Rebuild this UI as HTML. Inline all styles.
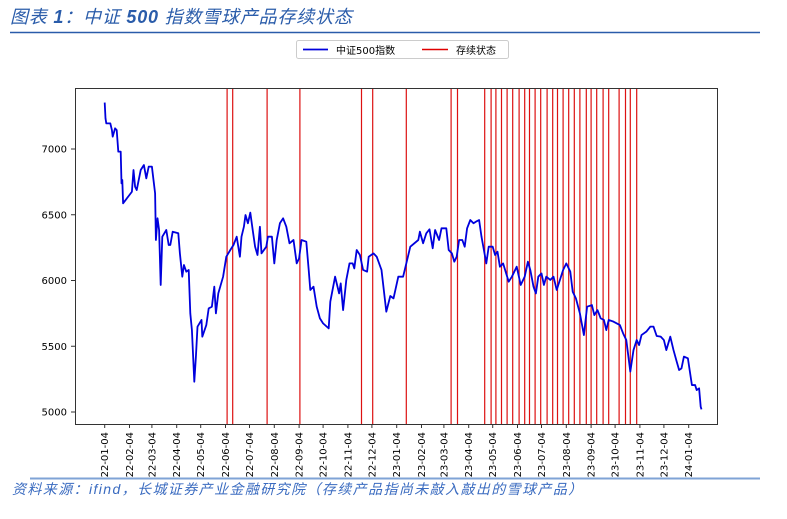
<!DOCTYPE html>
<html><head><meta charset="utf-8">
<style>
body{margin:0;background:#fff;width:787px;height:514px;overflow:hidden;font-family:"Liberation Sans","Noto Sans CJK SC",sans-serif;}
svg text{font-family:"DejaVu Sans","Liberation Sans","Noto Sans CJK SC",sans-serif;}
</style></head><body>
<svg id="chart" width="787" height="514">
<text x="10" y="23" font-size="18" font-style="italic" fill="#2a5caa" letter-spacing="0.8" style="font-family:'Liberation Sans','Noto Sans CJK SC',sans-serif">图表 <tspan font-weight="bold">1</tspan>：中证 <tspan font-weight="bold">500</tspan> 指数雪球产品存续状态</text>
<line x1="10" y1="32.5" x2="760" y2="32.5" stroke="#2a5caa" stroke-width="1.5"/>
<g>
<rect x="296.5" y="40.5" width="212" height="18" rx="2" fill="#fff" stroke="#ccc"/>
<line x1="303" y1="49.5" x2="328" y2="49.5" stroke="#0000dd" stroke-width="1.8"/>
<text x="336" y="54" font-size="10" fill="#000">中证500指数</text>
<line x1="422" y1="49.5" x2="448" y2="49.5" stroke="#e00000" stroke-width="1.5"/>
<text x="456" y="54" font-size="10" fill="#000">存续状态</text>
</g>
<g id="plot"></g>
<line x1="30" y1="478.5" x2="760" y2="478.5" stroke="#7fa3d6" stroke-width="2"/>
<text x="12" y="494" font-size="14" font-style="italic" fill="#3a6bc0" letter-spacing="1.4" style="font-family:'Liberation Sans','Noto Sans CJK SC',sans-serif">资料来源：ifind，长城证券产业金融研究院（存续产品指尚未敲入敲出的雪球产品）</text>
</svg>
<script>
// days since 2022-01-04
const days=[0,1,2,7,9,10,13,15,17,20,21,22,23,34,36,38,40,45,49,52,55,59,61,63,64,66,68,70,72,77,80,82,85,92,94,97,99,102,105,107,109,112,114,116,121,122,127,130,134,137,139,142,148,152,157,161,165,169,171,174,176,179,182,185,188,191,194,196,202,204,209,212,215,219,223,227,231,236,240,243,246,252,255,257,261,265,269,273,280,282,288,293,295,298,302,306,310,312,315,319,323,328,330,336,340,346,352,357,361,367,373,377,382,392,394,398,402,406,410,413,418,421,427,430,434,437,440,443,447,450,453,457,461,464,468,471,474,477,480,485,488,491,494,498,505,509,515,520,525,529,532,536,539,542,546,549,552,557,561,565,569,573,577,582,585,589,594,599,603,609,612,616,620,624,627,630,636,644,648,652,657,661,665,668,671,677,682,686,690,695,699,702,707,711,715,718,721,724,729,734,738,740,743,745,746];
const values=[7353,7233,7195,7195,7144,7094,7157,7144,6980,6980,6739,6764,6587,6675,6840,6713,6688,6840,6878,6777,6866,6866,6764,6663,6308,6473,6384,5966,6333,6384,6270,6270,6371,6359,6206,6029,6118,6067,6080,5750,5624,5230,5421,5649,5700,5573,5661,5788,5801,5953,5750,5902,6029,6181,6232,6270,6333,6181,6333,6409,6498,6435,6516,6384,6257,6194,6409,6206,6257,6333,6333,6130,6308,6435,6473,6409,6283,6308,6130,6168,6308,6295,6080,5928,5953,5801,5712,5674,5636,5839,6029,5902,5978,5775,6004,6130,6130,6092,6232,6194,6080,6067,6181,6206,6181,6080,5763,5882,5864,6029,6029,6130,6257,6308,6371,6283,6359,6389,6245,6384,6308,6397,6397,6232,6206,6143,6181,6308,6308,6257,6397,6460,6435,6447,6460,6333,6232,6130,6257,6257,6194,6219,6105,6130,5991,6029,6105,5966,6029,6143,6080,5953,5902,6029,6054,5966,6029,6004,6029,5928,6004,6080,6130,6067,5915,5864,5750,5585,5801,5813,5737,5775,5712,5700,5623,5700,5687,5661,5598,5547,5307,5471,5547,5509,5585,5611,5649,5649,5578,5573,5547,5471,5573,5471,5383,5319,5332,5421,5408,5205,5205,5167,5180,5040,5020];
const statusDays=[153,160,203,244,321,335,377,433,441,475,483,489,496,503,510,518,525,531,538,545,553,560,566,573,580,587,594,602,608,615,623,630,643,651,657,665];
const yTicks=[5000,5500,6000,6500,7000];
const xTickLabels=['22-01-04','22-02-04','22-03-04','22-04-04','22-05-04','22-06-04','22-07-04','22-08-04','22-09-04','22-10-04','22-11-04','22-12-04','23-01-04','23-02-04','23-03-04','23-04-04','23-05-04','23-06-04','23-07-04','23-08-04','23-09-04','23-10-04','23-11-04','23-12-04','24-01-04'];

const L=75,R=717,T=88,B=424;
const base=Date.UTC(2022,0,4);
function x(d){return 104.7+d*0.8;}
function y(v){return 149+(7000-v)*0.1315;}
function labelDay(s){const p=s.split('-');return (Date.UTC(2000+ +p[0],+p[1]-1,+p[2])-base)/86400000;}
const NS='http://www.w3.org/2000/svg';
const g=document.getElementById('plot');
function mk(t,a){const e=document.createElementNS(NS,t);for(const k in a)e.setAttribute(k,a[k]);g.appendChild(e);return e;}

for(const d of statusDays){
 const l=mk('line',{x1:x(d),x2:x(d),y1:T,y2:B,stroke:'#dd1111','stroke-width':1.2});
 
 
}
const pl=mk('polyline',{points:days.map((d,i)=>x(d)+','+y(values[i])).join(' '),fill:'none',stroke:'#0000dd','stroke-width':1.8,'stroke-linejoin':'round'});



const fr=mk('rect',{x:L+0.5,y:T+0.5,width:R-L,height:B-T,fill:'none',stroke:'#333','stroke-width':1});



for(const v of yTicks){
 const tk=mk('line',{x1:L-4,x2:L,y1:y(v),y2:y(v),stroke:'#333'});
 
 
 const t=mk('text',{x:L-8,y:y(v)+3.5,'font-size':10,'text-anchor':'end',fill:'#000'});
 t.textContent=v;
 
 
}
for(const s of xTickLabels){
 const xx=x(labelDay(s));
 const tk=mk('line',{x1:xx,x2:xx,y1:B,y2:B+4,stroke:'#333'});
 
 
 const t=mk('text',{x:xx+3.5,y:B+8,'font-size':10,'text-anchor':'end',fill:'#000',transform:'rotate(-90 '+(xx+3.5)+' '+(B+8)+')'});
 t.textContent=s;
 
 
}
</script>
</body></html>
